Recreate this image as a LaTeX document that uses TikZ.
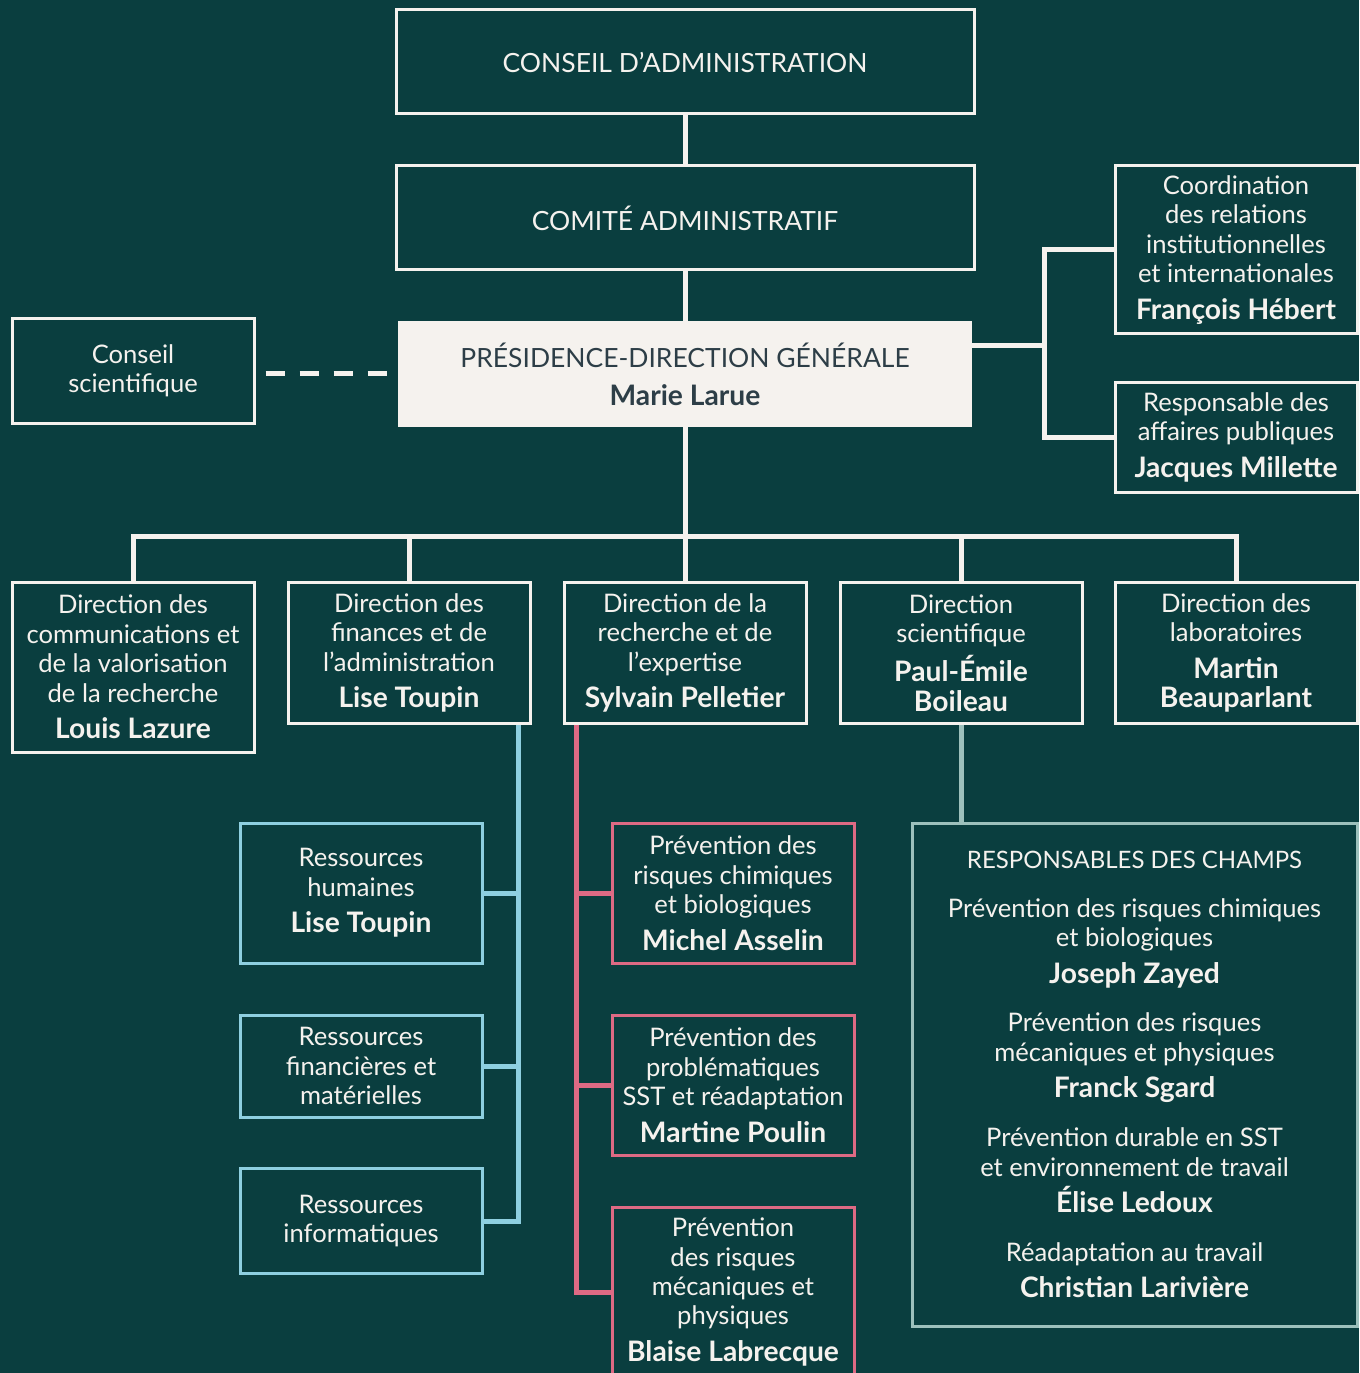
\documentclass[tikz,border=0pt]{standalone}
\usepackage{fontspec}
\setmainfont{Lato}
\usepackage{xcolor}
\definecolor{fond}{HTML}{0A3E3F}
\definecolor{clair}{HTML}{F5F2EE}
\definecolor{ardoise}{HTML}{2D3E47}
\definecolor{bleu}{HTML}{8ECFE0}
\definecolor{rose}{HTML}{DE6A84}
\definecolor{gris}{HTML}{9DC0BC}
\newcommand{\pxu}{0.567pt}
\newcommand{\gras}{\bfseries\fontsize{16}{16.7}\selectfont}
\newcommand{\nomchef}[1]{{\gras #1}}

\begin{document}
\begin{tikzpicture}[x=0.567pt,y=-0.567pt,line cap=butt,line join=miter,
  every node/.style={font=\fontsize{14.5}{16.7}\selectfont,text=clair,align=center,inner sep=0pt},
  titre/.style={font=\fontsize{15}{16.7}\selectfont},
  unite/.style={draw=clair,line width=3*\pxu,fill=fond,minimum width=242*\pxu},
  service/.style={unite,draw=bleu},
  champ/.style={unite,draw=rose},
  wline/.style={draw=clair,line width=5*\pxu},
  bline/.style={draw=bleu,line width=5*\pxu},
  pline/.style={draw=rose,line width=5*\pxu},
  gline/.style={draw=gris,line width=5*\pxu}]
\useasboundingbox (0,0) rectangle (1359,1373);
\fill[fond] (0,0) rectangle (1359,1373);
%
% haut de l'organigramme
\node[unite,titre,minimum width=578*\pxu,minimum height=104*\pxu] (ca) at (685,62) {CONSEIL D’ADMINISTRATION};
\node[unite,titre,minimum width=578*\pxu,minimum height=104*\pxu] (cad) at (685,218) {COMITÉ ADMINISTRATIF};
\node[titre,fill=clair,text=ardoise,minimum width=574*\pxu,minimum height=106*\pxu] (pdg) at (685,374) {PRÉSIDENCE-DIRECTION GÉNÉRALE\\[5pt]\nomchef{Marie Larue}};
\node[unite,minimum height=104*\pxu] (cs) at (133,371) {Conseil\\scientifique};
\node[unite,minimum height=168*\pxu] (coord) at (1236,250) {Coordination\\des relations\\institutionnelles\\et internationales\\[4pt]\nomchef{François Hébert}};
\node[unite,minimum height=110*\pxu] (resp) at (1236,437) {Responsable des\\affaires publiques\\[4pt]\nomchef{Jacques Millette}};
%
% directions
\node[unite,minimum height=170*\pxu] (d1) at (133,667) {Direction des\\communications et\\de la valorisation\\de la recherche\\[4pt]\nomchef{Louis Lazure}};
\node[unite,minimum height=141*\pxu] (d2) at (409,653) {Direction des\\finances et de\\l’administration\\[4pt]\nomchef{Lise Toupin}};
\node[unite,minimum height=141*\pxu] (d3) at (685,653) {Direction de la\\recherche et de\\l’expertise\\[4pt]\nomchef{Sylvain Pelletier}};
\node[unite,minimum height=141*\pxu] (d4) at (961,653) {Direction\\scientifique\\[4pt]\nomchef{Paul-Émile}\\\nomchef{Boileau}};
\node[unite,minimum height=141*\pxu] (d5) at (1236,653) {Direction des\\laboratoires\\[4pt]\nomchef{Martin}\\\nomchef{Beauparlant}};
%
% services
\node[service,minimum height=140*\pxu] (r1) at (361,893) {Ressources\\humaines\\[4pt]\nomchef{Lise Toupin}};
\node[service,minimum height=102*\pxu] (r2) at (361,1066) {Ressources\\financières et\\matérielles};
\node[service,minimum height=105*\pxu] (r3) at (361,1221) {Ressources\\informatiques};
\node[champ,minimum height=140*\pxu] (p1) at (733,893) {Prévention des\\risques chimiques\\et biologiques\\[4pt]\nomchef{Michel Asselin}};
\node[champ,minimum height=140*\pxu] (p2) at (733,1085) {Prévention des\\problématiques\\SST et réadaptation\\[4pt]\nomchef{Martine Poulin}};
\node[champ,minimum height=170*\pxu] (p3) at (733,1292) {Prévention\\des risques\\mécaniques et\\physiques\\[4pt]\nomchef{Blaise Labrecque}};
\node[unite,draw=gris,minimum width=445*\pxu,minimum height=503*\pxu] (champs) at (1134.5,1074.5) {{\fontsize{13.6}{16.7}\selectfont RESPONSABLES DES CHAMPS}\\[11pt]
  Prévention des risques chimiques\\et biologiques\\[4pt]\nomchef{Joseph Zayed}\\[11pt]
  Prévention des risques\\mécaniques et physiques\\[4pt]\nomchef{Franck Sgard}\\[11pt]
  Prévention durable en SST\\et environnement de travail\\[4pt]\nomchef{Élise Ledoux}\\[11pt]
  Réadaptation au travail\\[4pt]\nomchef{Christian Larivière}};
%
% liens
\coordinate (bus) at (685,536);
\coordinate (rj) at (1044,346);
\draw[wline] (ca.south) -- (cad.north);
\draw[wline] (cad.south) -- (pdg.north);
\draw[wline] (pdg.south) -- (bus);
\foreach \d in {d1,d2,d3,d4,d5}
  \draw[wline] (bus) -| (\d.north);
\draw[wline] (pdg.east |- rj) -- (rj);
\draw[wline] (coord.west) -| (rj) |- (resp.west);
\draw[draw=clair,line width=5*\pxu,dash pattern=on 19*\pxu off 15*\pxu,shorten <=10*\pxu,shorten >=10*\pxu] ([yshift=-3*\pxu]cs.east) -- ([yshift=-3*\pxu]cs.east -| pdg.west);
%
\coordinate (btop) at ([xshift=-13*\pxu]d2.south east);
\draw[bline] (btop) |- (r3.east);
\draw[bline] (r1.east) -- (r1.east -| btop);
\draw[bline] (r2.east) -- (r2.east -| btop);
\coordinate (ptop) at ([xshift=14*\pxu]d3.south west);
\draw[pline] (ptop) |- (p3.west);
\draw[pline] (p1.west) -- (p1.west -| ptop);
\draw[pline] (p2.west) -- (p2.west -| ptop);
\draw[gline] (d4.south) -- (d4.south |- champs.north);
\end{tikzpicture}
\end{document}
